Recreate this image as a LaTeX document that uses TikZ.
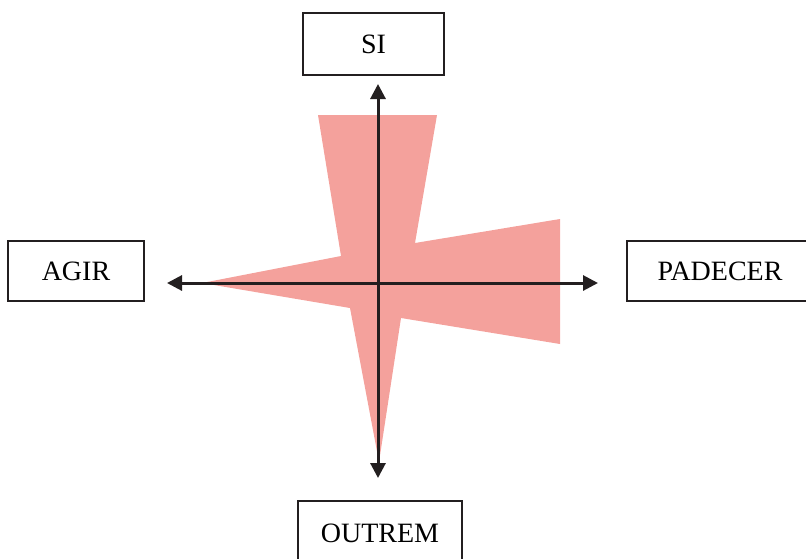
\documentclass[tikz,border=0pt]{standalone}
\usepackage{fontspec}
\setmainfont{Liberation Serif}
\usepackage{xcolor}
\usetikzlibrary{arrows.meta}

\definecolor{rosa}{RGB}{244,161,156}
\definecolor{traco}{RGB}{35,31,32}

\begin{document}
\begin{tikzpicture}[x=1pt, y=-1pt,
    caixa/.style={draw=traco, line width=2pt, rectangle, minimum height=62pt,
        inner sep=0pt, font=\fontsize{28}{32}\selectfont},
    eixo/.style={traco, line width=3pt, {Triangle[length=15pt,width=15pt]}-{Triangle[length=15pt,width=15pt]}}]
\useasboundingbox (0,0) rectangle (806,558);

% forma
\fill[rosa] (318,115) -- (437,115) -- (415,243) -- (560,219) -- (560,344)
    -- (401,318) -- (379,462) -- (350,308) -- (202,283) -- (341,256) -- cycle;

% extremos dos eixos
\coordinate (cima) at (378,84);
\coordinate (baixo) at (378,478);
\coordinate (esq) at (167,283);
\coordinate (dir) at (598,283);

\draw[eixo] (baixo) -- (cima);
\draw[eixo] (esq) -- (dir);

\node[caixa, minimum width=141pt] (si) at (373.5,44) {SI};
\node[caixa, minimum width=136pt, minimum height=60pt] (agir) at (76,271) {AGIR};
\node[caixa, minimum width=186pt, minimum height=60pt] (padecer) at (720,271) {PADECER};
\node[caixa, minimum width=164pt, minimum height=64pt] (outrem) at (380,533) {OUTREM};
\end{tikzpicture}
\end{document}
